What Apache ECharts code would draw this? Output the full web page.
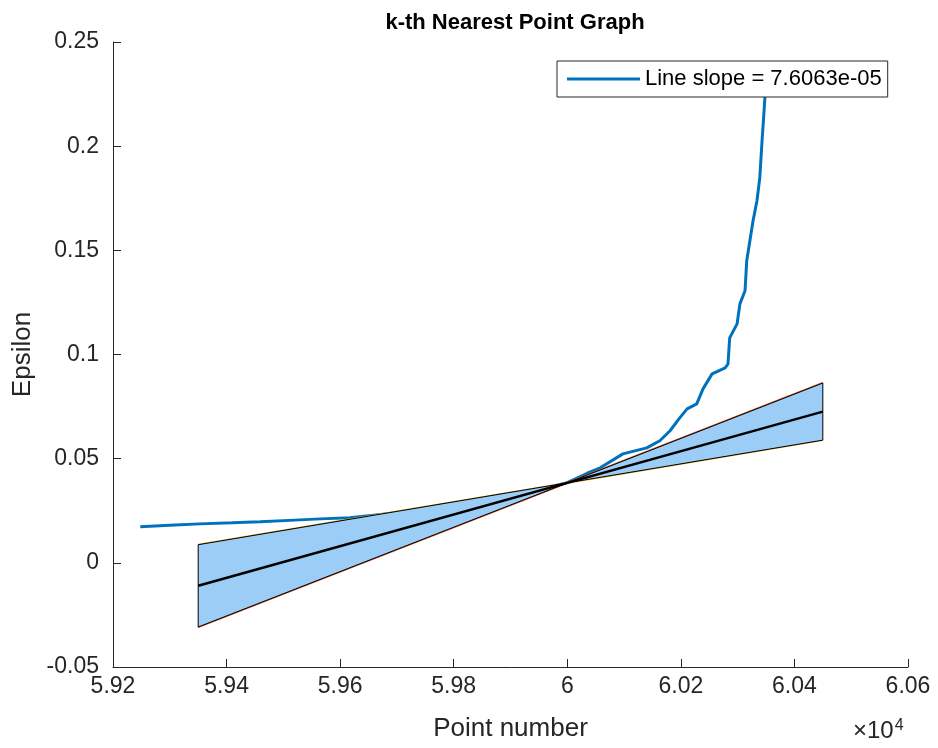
<!DOCTYPE html>
<html>
<head>
<meta charset="utf-8">
<script src="https://cdn.jsdelivr.net/npm/echarts@6/dist/echarts.min.js"></script>
<style>html,body{margin:0;padding:0;background:#fff}#c{width:938px;height:748px}</style>
</head>
<body>
<div id="c"></div>
<script>
// k-distance curve (sorted k-th nearest point distance)
var curveX = [59248,59300,59353,59410,59459,59520,59565,59617,59700,59800,59900,60000,60035,60058,60098,60140,60163,60181,60198,60211,60228,60239,60255,60278,60283,60286,60299,60304,60313,60316,60327,60334,60339,60343,60345,60348,60350];
var curveY = [0.0173,0.0180,0.0187,0.0192,0.0197,0.0205,0.0211,0.0216,0.0240,0.0275,0.0320,0.0385,0.0430,0.0456,0.0523,0.0552,0.0586,0.0634,0.0696,0.0739,0.0763,0.0835,0.0907,0.0936,0.0955,0.1080,0.1147,0.1243,0.1306,0.1450,0.1640,0.1738,0.1848,0.2026,0.2107,0.2232,0.2380];
// fitted line and its band
var centerX = [59350, 60450];
var centerY = [-0.0110, 0.0726];
var steepX = [59350, 60450];
var steepY = [-0.0308, 0.0863];
var shallowX = [59350, 60450];
var shallowY = [0.0087, 0.0589];
// band polygon (bow-tie)
var polyX = [59350, 60000, 60450, 60450, 60000, 59350];
var polyY = [0.0087, 0.0384, 0.0589, 0.0863, 0.0384, -0.0308];
// axes
var xTicks = [59200, 59400, 59600, 59800, 60000, 60200, 60400, 60600];
var yTicks = [-0.05, 0, 0.05, 0.1, 0.15, 0.2, 0.25];
var legendName = 'Line slope = 7.6063e-05';

function zip(a, b) { return a.map(function (v, i) { return [v, b[i]]; }); }
var FONT = "'Liberation Sans', Arial, Helvetica, sans-serif";
var AX = '#262626';

var chart = echarts.init(document.getElementById('c'), null, {renderer: 'canvas'});
chart.setOption({
  animation: false,
  backgroundColor: '#ffffff',
  title: {
    text: 'k-th Nearest Point Graph',
    left: 510, top: 7, textAlign: 'center',
    textStyle: {fontFamily: FONT, fontWeight: 'bold', fontSize: 22, color: '#000'}
  },
  legend: {
    data: [legendName],
    left: 557, top: 61, z: 60, zlevel: 2,
    orient: 'horizontal',
    icon: 'rect', itemWidth: 73, itemHeight: 3,
    padding: [7, 6, 7, 10],
    backgroundColor: '#ffffff', borderColor: AX, borderWidth: 1,
    textStyle: {fontFamily: FONT, fontSize: 22, color: '#000', lineHeight: 22},
    selectedMode: false
  },
  grid: {left: 113, right: 30, top: 42, bottom: 81, containLabel: false},
  xAxis: {
    type: 'value', min: xTicks[0], max: xTicks[xTicks.length - 1], interval: 200,
    name: 'Point number', nameLocation: 'middle', nameGap: 49,
    nameTextStyle: {fontFamily: FONT, fontSize: 26, color: AX},
    axisLine: {show: true, onZero: false, lineStyle: {color: AX, width: 1}},
    axisTick: {show: true, inside: true, length: 8, lineStyle: {color: AX}},
    splitLine: {show: false},
    axisLabel: {
      margin: 8, fontFamily: FONT, fontSize: 23, color: AX,
      formatter: function (v) { return String(Number((v / 10000).toFixed(2))); }
    }
  },
  yAxis: {
    type: 'value', min: yTicks[0], max: yTicks[yTicks.length - 1], interval: 0.05,
    name: 'Epsilon', nameLocation: 'middle', nameGap: 73, nameRotate: 90,
    nameTextStyle: {fontFamily: FONT, fontSize: 26, color: AX},
    axisLine: {show: true, onZero: false, lineStyle: {color: AX, width: 1}},
    axisTick: {show: true, inside: true, length: 8, lineStyle: {color: AX}},
    splitLine: {show: false},
    axisLabel: {
      margin: 14, fontFamily: FONT, fontSize: 23, color: AX,
      formatter: function (v) { return String(Number(v.toFixed(2))); }
    }
  },
  graphic: [{
    type: 'text', left: 853, top: 718, z: 10,
    style: {
      text: '×10{s|4}',
      font: '24px ' + FONT, fill: AX,
      rich: {s: {fontSize: 16, fontFamily: FONT, fill: AX, verticalAlign: 'top', padding: [0, 0, 10, 1]}}
    }
  }],
  series: [
    {
      name: legendName, type: 'line', z: 1, zlevel: 0, symbol: 'none', clip: true,
      data: zip(curveX, curveY),
      lineStyle: {color: '#0072BD', width: 3},
      itemStyle: {color: '#0072BD'}
    },
    {
      name: 'steep', type: 'line', z: 3, symbol: 'none',
      data: zip(steepX, steepY),
      lineStyle: {color: '#D95319', width: 2}
    },
    {
      name: 'shallow', type: 'line', z: 3, symbol: 'none',
      data: zip(shallowX, shallowY),
      lineStyle: {color: '#EDB120', width: 2}
    },
    {
      name: 'band', type: 'custom', z: 4,
      data: [[polyX[0], polyY[0]]],
      renderItem: function (params, api) {
        if (params.dataIndex !== 0) return;
        var pts = polyX.map(function (x, i) { return api.coord([x, polyY[i]]); });
        return {
          type: 'polygon',
          shape: {points: pts},
          style: {fill: '#9BCDF6', stroke: '#000', lineWidth: 1}
        };
      }
    },
    {
      name: 'fit', type: 'line', z: 5, symbol: 'none',
      data: zip(centerX, centerY),
      lineStyle: {color: '#000', width: 2.5}
    }
  ]
});
</script>
</body>
</html>
